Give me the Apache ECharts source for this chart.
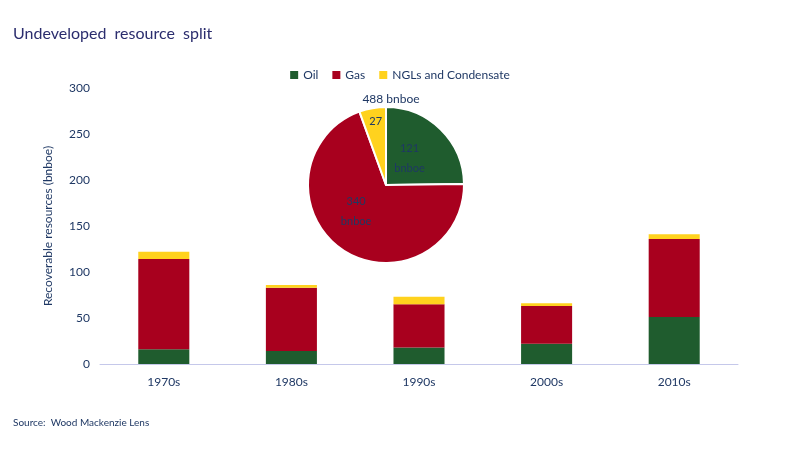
<!DOCTYPE html>
<html>
<head>
<meta charset="utf-8">
<script src="https://cdn.jsdelivr.net/npm/echarts@6/dist/echarts.min.js"></script>
<style>
  html, body { margin: 0; padding: 0; background: #fff; }
  #chart { width: 800px; height: 450px; }
</style>
</head>
<body>
<div id="chart"></div>
<script>
// data
var decades = ["1970s", "1980s", "1990s", "2000s", "2010s"];
var oil = [16, 14, 18, 22, 51];
var gas = [98, 69, 47, 41, 85];
var ngl = [8, 3, 8, 3, 5];
var yTicks = [0, 50, 100, 150, 200, 250, 300];
var pieNames = ["Oil", "Gas", "NGLs and Condensate"];
var pieValues = [121, 340, 27];
var pieTotal = "488 bnboe";

var navy = "#1f3864";
var colors = ["#1f5c2e", "#a8001e", "#ffd21e"];
var font = "Lato";

var pieData = pieNames.map(function (n, i) {
  var lbl = i < 2 ? pieValues[i] + "\nbnboe" : String(pieValues[i]);
  var item = { name: n, value: pieValues[i], label: { formatter: lbl } };
  if (i === 0) item.label.offset = [-6, 3];
  if (i === 1) item.label.offset = [-6, -8];
  if (i === 2) item.label.offset = [-3, -22];
  return item;
});

var option = {
  animation: false,
  color: colors,
  textStyle: { fontFamily: font },
  title: [
    { text: "Undeveloped  resource  split", left: 8, top: 21,
      textStyle: { color: "#2b2d6e", fontSize: 16, fontWeight: "normal", fontFamily: font } },
    { text: "Source:  Wood Mackenzie Lens", left: 8, top: 413,
      textStyle: { color: navy, fontSize: 10, fontWeight: "normal", fontFamily: font } },
    { text: pieTotal, left: 386, textAlign: "center", top: 88,
      textStyle: { color: navy, fontSize: 12, fontWeight: "normal", fontFamily: font } }
  ],
  legend: {
    top: 64, left: "center",
    itemWidth: 8, itemHeight: 8, itemGap: 14,
    icon: "rect",
    data: pieNames,
    textStyle: { color: navy, fontSize: 12, fontFamily: font }
  },
  grid: { left: 100, right: 62, top: 88, bottom: 86, containLabel: false },
  xAxis: {
    type: "category",
    data: decades,
    axisLine: { lineStyle: { color: "#c5c8ea" } },
    axisTick: { show: false },
    axisLabel: { color: navy, fontSize: 12, margin: 12, fontFamily: font }
  },
  yAxis: {
    type: "value",
    min: yTicks[0], max: yTicks[yTicks.length - 1], interval: 50,
    name: "Recoverable resources (bnboe)",
    nameLocation: "middle", nameGap: 46,
    nameTextStyle: { color: navy, fontSize: 12, fontFamily: font },
    splitLine: { show: false },
    axisLine: { show: false },
    axisTick: { show: false },
    axisLabel: { color: navy, fontSize: 12, margin: 10, fontFamily: font }
  },
  series: [
    { name: "Oil", type: "bar", stack: "t", data: oil, barWidth: "40%", itemStyle: { color: colors[0] } },
    { name: "Gas", type: "bar", stack: "t", data: gas, barWidth: "40%", itemStyle: { color: colors[1] } },
    { name: "NGLs and Condensate", type: "bar", stack: "t", data: ngl, barWidth: "40%", itemStyle: { color: colors[2] } },
    {
      name: "Split", type: "pie",
      center: [386, 185], radius: 78,
      startAngle: 90, clockwise: true,
      z: 10,
      itemStyle: { borderColor: "#fff", borderWidth: 2 },
      label: { position: "inside", color: navy, fontSize: 11, lineHeight: 20, fontFamily: font },
      labelLine: { show: false },
      emphasis: { disabled: true },
      data: pieData
    }
  ]
};

var chart = echarts.init(document.getElementById("chart"));
chart.setOption(option);
</script>
</body>
</html>
